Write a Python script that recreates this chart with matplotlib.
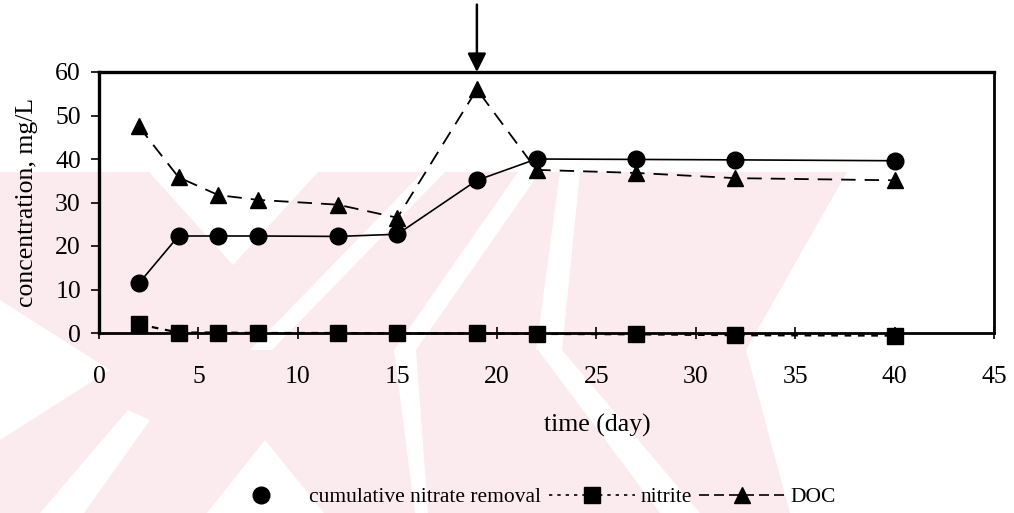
import matplotlib
matplotlib.use("Agg")
import matplotlib.pyplot as plt
from matplotlib.lines import Line2D
from matplotlib.patches import Polygon

plt.rcParams['font.family'] = ['Liberation Serif', 'DejaVu Serif']

# sampling days and measured concentrations (mg/L)
days = [2, 4, 6, 8, 12, 15, 19, 22, 27, 32, 40]
nitrate_removal = [11.4, 22.3, 22.3, 22.3, 22.2, 22.7, 35.1, 40.0, 39.9, 39.8, 39.6]
nitrite = [2.0, 0.1, 0.1, 0.0, 0.0, -0.1, -0.1, -0.2, -0.3, -0.5, -0.6]
doc = [47.5, 35.8, 31.7, 30.6, 29.5, 26.5, 56.0, 37.5, 36.8, 35.6, 35.1]
feed_change_day = 19

W, H = 1014, 513
fig = plt.figure(figsize=(W / 100, H / 100), dpi=100)

# faint background stamp, drawn in pixel units
bg = fig.add_axes([0, 0, 1, 1], zorder=0)
bg.set_xlim(0, W)
bg.set_ylim(H, 0)
bg.axis('off')
pink = '#fcebee'
bg.add_patch(Polygon([(0, 172), (847, 172), (746, 350), (790, H), (0, H)],
                     closed=True, color=pink, lw=0))
notches = [
    [(149, 172), (318, 172), (233, 265)],
    [(0, 300), (110, 370), (0, 440)],
    [(207, H), (324, H), (265, 440)],
    [(40, H), (84, H), (150, 420), (128, 410)],
    [(250, 350), (272, 350), (445, 172), (423, 172)],
    [(394, 350), (416, 350), (540, 172), (518, 172)],
    [(536, 350), (562, 350), (580, 172), (560, 172)],
    [(415, H), (428, H), (416, 350), (394, 350)],
    [(538, 350), (562, 350), (700, H), (660, H)],
]
for pts in notches:
    bg.add_patch(Polygon(pts, closed=True, color='white', lw=0))

ax = fig.add_axes([99 / W, 1 - 333 / H, (994 - 99) / W, (333 - 72) / H], zorder=1)
ax.set_facecolor('none')

ax.plot(days, nitrate_removal, color='black', lw=1.2, marker='o', ms=12,
        clip_on=False, zorder=4)
ax.plot(days, nitrite, color='black', lw=1.6, ls=(0, (3, 3)), marker='s', ms=11,
        clip_on=False, zorder=4)
ax.plot(days, doc, color='black', lw=1.3, ls=(0, (8, 5)), marker='^', ms=12,
        clip_on=False, zorder=4)

ax.set_xlim(0, 45)
ax.set_ylim(0, 60)
ax.set_xticks(range(0, 46, 5))
ax.set_yticks(range(0, 61, 10))
ax.tick_params(axis='x', direction='inout', length=8, width=1.2, pad=20, labelsize=18.5)
ax.tick_params(axis='y', direction='out', length=6, width=1.2, pad=7, labelsize=18.5)
for side, w in [('left', 2.4), ('top', 2.4), ('right', 2.0), ('bottom', 2.0)]:
    ax.spines[side].set_linewidth(w)

ax.set_ylabel('concentration, mg/L', fontsize=18.5)
ax.yaxis.set_label_coords(-0.068, 0.5)
ax.set_xlabel('time (day)', fontsize=18.5)
ax.xaxis.set_label_coords((597 - 99) / (994 - 99), -0.31)

# arrow marking the day the feed was changed
ax.annotate('', xy=(feed_change_day, 60), xytext=(feed_change_day, 75.5),
            arrowprops=dict(arrowstyle='-|>', color='black', lw=1.8,
                            mutation_scale=28, shrinkA=0, shrinkB=0),
            annotation_clip=False)

handles = [
    Line2D([], [], color='black', ls='none', marker='o', ms=12),
    Line2D([], [], color='black', lw=1.2, ls=(0, (2, 3)), marker='s', ms=11),
    Line2D([], [], color='black', lw=1.2, ls=(0, (6, 3)), marker='^', ms=11),
]
labels = ['cumulative nitrate removal', 'nitrite', 'DOC']
fig.legend(handles, labels, loc='center', bbox_to_anchor=(527 / W, 1 - 497 / H),
           ncol=3, frameon=False, fontsize=15.5, handlelength=4.0,
           handletextpad=0.25, columnspacing=0.35)

fig.savefig('out.png', dpi=100)
